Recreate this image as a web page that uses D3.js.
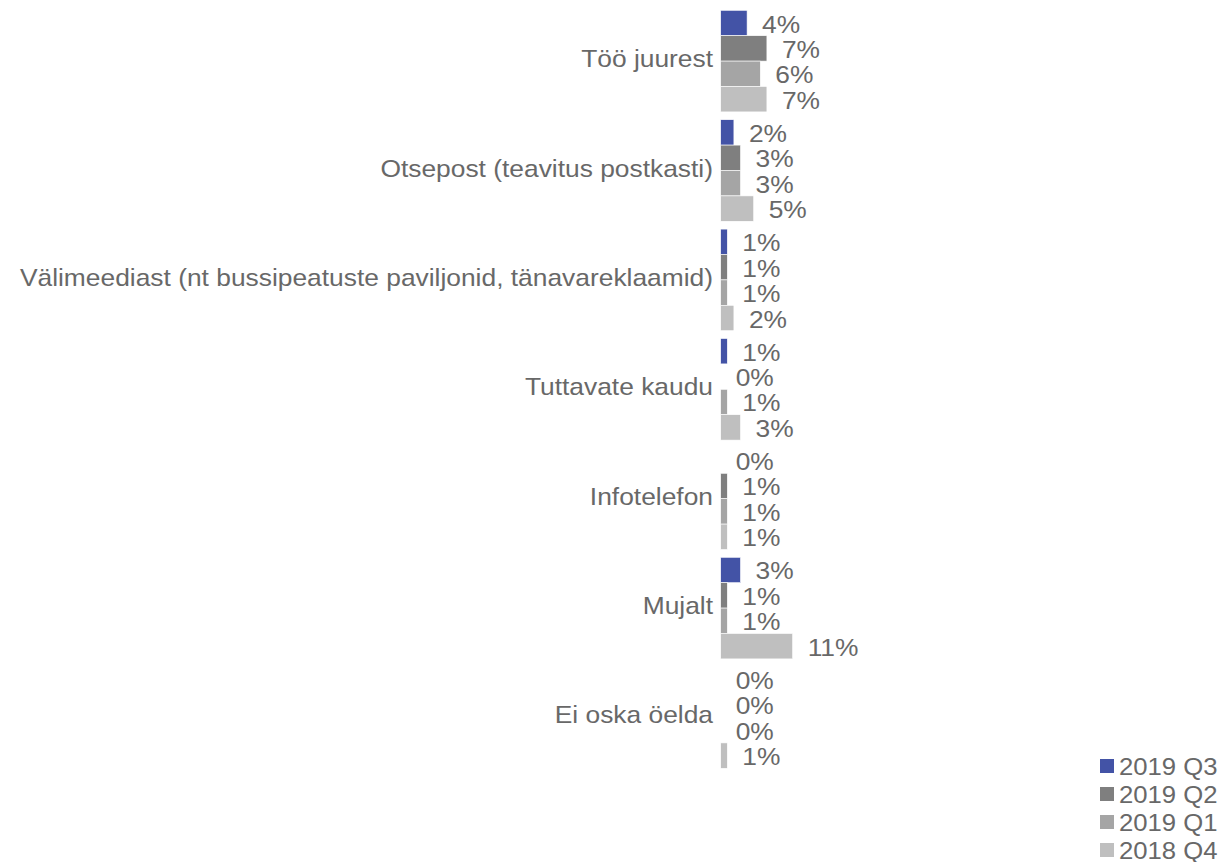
<!DOCTYPE html>
<html>
<head>
<meta charset="utf-8">
<script src="https://cdn.jsdelivr.net/npm/d3@7"></script>
<style>
html,body{margin:0;padding:0;background:#fff;}
svg{display:block;font-family:"Liberation Sans",Arial,sans-serif;}
</style>
</head>
<body>
<svg id="chart" width="1225" height="862"></svg>
<script>
const categories = ["Töö juurest","Otsepost (teavitus postkasti)","Välimeediast (nt bussipeatuste paviljonid, tänavareklaamid)","Tuttavate kaudu","Infotelefon","Mujalt","Ei oska öelda"];
const seriesNames = ["2019 Q3","2019 Q2","2019 Q1","2018 Q4"];
const seriesColors = ["#4353a6","#7f7f7f","#a5a5a5","#bfbfbf"];
const q3_2019 = [4,2,1,1,0,3,0];
const q2_2019 = [7,3,1,0,1,1,0];
const q1_2019 = [6,3,1,1,1,1,0];
const q4_2018 = [7,5,2,3,1,10.9,1];
const seriesValues = [q3_2019,q2_2019,q1_2019,q4_2018];

const svg = d3.select("#chart");
const textColor = "#686868";
const fontSize = 24.2;
const stretch = 1.09;

const x = d3.scaleLinear().domain([0,100]).range([720.7, 720.7+660]);
const yb = d3.scaleBand().domain(categories).range([6.4, 772.2]).paddingInner(0.0713).paddingOuter(0.0357);
const ys = d3.scaleBand().domain(seriesNames).range([0, yb.bandwidth()]);

const g = svg.append("g");

function stretchedText(parent, tx, ty, str, anchor, k, fs){
  return parent.append("text")
    .attr("transform", `translate(${tx},${ty}) scale(${k},1)`)
    .attr("text-anchor", anchor)
    .attr("fill", textColor)
    .attr("font-size", fs || fontSize)
    .text(str);
}

categories.forEach((c,ci)=>{
  const gy = yb(c);
  seriesNames.forEach((s,si)=>{
    const v = seriesValues[si][ci];
    const by = gy + ys(s);
    if (v > 0) {
      g.append("rect")
        .attr("x", x(0))
        .attr("y", by)
        .attr("width", x(v)-x(0))
        .attr("height", ys.bandwidth())
        .attr("fill", seriesColors[si])
        .attr("stroke","#ffffff").attr("stroke-width",0.6);
    }
    stretchedText(g, x(v) + 15, by + ys.bandwidth()/2 + 9.5, Math.round(v) + "%", "start", stretch);
  });
  stretchedText(g, 713, gy + yb.bandwidth()/2 + 6, c, "end", stretch);
});

const legend = svg.append("g");
seriesNames.forEach((s,i)=>{
  const cy = 766 + i*28;
  legend.append("rect")
    .attr("x",1100).attr("y",cy-7).attr("width",14).attr("height",14)
    .attr("fill",seriesColors[i]);
  stretchedText(legend, 1119, cy+8.5, s, "start", 1.07, 24);
});
</script>
</body>
</html>
